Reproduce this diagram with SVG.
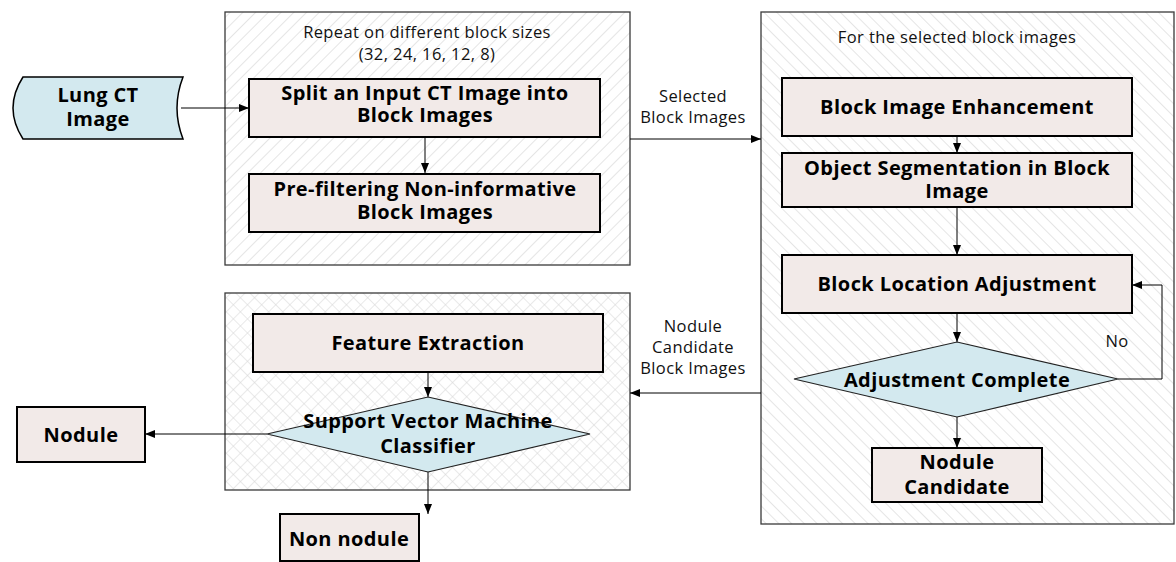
<svg xmlns="http://www.w3.org/2000/svg" width="1176" height="562" viewBox="0 0 1176 562">
  <defs>
    <pattern id="hatch-fwd" width="9" height="9" patternUnits="userSpaceOnUse" patternTransform="rotate(45)">
      <line x1="0" y1="0" x2="0" y2="9" stroke="#cfcfcf" stroke-width="1.1"/>
    </pattern>
    <pattern id="hatch-back" width="9" height="9" patternUnits="userSpaceOnUse" patternTransform="rotate(-45)">
      <line x1="0" y1="0" x2="0" y2="9" stroke="#cfcfcf" stroke-width="1.1"/>
    </pattern>
    <pattern id="lattice" width="10" height="10" patternUnits="userSpaceOnUse" patternTransform="rotate(45)">
      <line x1="0" y1="0" x2="0" y2="10" stroke="#d4d4d4" stroke-width="1"/>
      <line x1="0" y1="0" x2="10" y2="0" stroke="#d4d4d4" stroke-width="1"/>
    </pattern>
    <marker id="arrow" viewBox="0 0 10 10" refX="10" refY="5" markerWidth="10" markerHeight="10" markerUnits="userSpaceOnUse" orient="auto">
      <path d="M0,1 L10,5 L0,9 Z" fill="#000"/>
    </marker>
  </defs>
  <style>
    .container { stroke: #3a3a3a; stroke-width: 1.3; }
    .box { fill: #f2eae8; stroke: #000; stroke-width: 2; }
    .decision { fill: #d3e9ef; stroke: #222; stroke-width: 1.2; }
    .title { font-family: "Open Sans", "Noto Sans", sans-serif; font-weight: bold; font-size: 20px; letter-spacing: 0.4px; fill: #000; text-anchor: middle; }
    .note { font-family: "Open Sans", "Noto Sans", sans-serif; font-size: 16.5px; letter-spacing: 0.4px; fill: #111; text-anchor: middle; }
    .edge { fill: none; stroke: #000; stroke-width: 1; marker-end: url(#arrow); }
  </style>

  <rect width="1176" height="562" fill="#fff"/>

  <!-- group frames -->
  <g id="group-block-sizes">
    <rect class="container" x="225" y="12" width="405" height="253" fill="url(#hatch-fwd)"/>
    <text class="note" x="427" y="38">Repeat on different block sizes</text>
    <text class="note" x="427" y="60">(32, 24, 16, 12, 8)</text>
  </g>
  <g id="group-selected">
    <rect class="container" x="761" y="12" width="413" height="512" fill="url(#hatch-back)"/>
    <text class="note" x="957" y="43">For the selected block images</text>
  </g>
  <g id="group-classification">
    <rect class="container" x="225" y="293" width="405" height="197" fill="url(#lattice)"/>
  </g>

  <!-- connectors -->
  <g id="connectors">
    <line class="edge" x1="181" y1="108" x2="249" y2="108"/>
    <line class="edge" x1="425" y1="137" x2="425" y2="173"/>
    <line class="edge" x1="630" y1="139" x2="761" y2="139"/>
    <line class="edge" x1="957" y1="136" x2="957" y2="153"/>
    <line class="edge" x1="957" y1="207" x2="957" y2="255"/>
    <line class="edge" x1="957" y1="313" x2="957" y2="342"/>
    <polyline class="edge" points="1118,379 1162,379 1162,285 1132,285"/>
    <line class="edge" x1="957" y1="417" x2="957" y2="448"/>
    <line class="edge" x1="761" y1="393" x2="630" y2="393"/>
    <line class="edge" x1="428" y1="372" x2="428" y2="397"/>
    <line class="edge" x1="267" y1="434" x2="145" y2="434"/>
    <line class="edge" x1="428" y1="472" x2="428" y2="514"/>
    <text class="note" x="693" y="102">Selected</text>
    <text class="note" x="693" y="123">Block Images</text>
    <text class="note" x="693" y="332">Nodule</text>
    <text class="note" x="693" y="353">Candidate</text>
    <text class="note" x="693" y="374">Block Images</text>
    <text class="note" x="1117" y="347">No</text>
  </g>

  <!-- nodes -->
  <g id="lung-ct-image">
    <path d="M23,77 L183,77 Q171,108 183,139 L23,139 Q3,108 23,77 Z" fill="#d3e9ef" stroke="#000" stroke-width="1.5"/>
    <text class="title" x="98" y="102">Lung CT</text>
    <text class="title" x="98" y="126">Image</text>
  </g>
  <g id="split-image">
    <rect class="box" x="249" y="79" width="351" height="58"/>
    <text class="title" x="425" y="100">Split an Input CT Image into</text>
    <text class="title" x="425" y="122">Block Images</text>
  </g>
  <g id="prefiltering">
    <rect class="box" x="249" y="174" width="351" height="58"/>
    <text class="title" x="425" y="196">Pre-filtering Non-informative</text>
    <text class="title" x="425" y="219">Block Images</text>
  </g>
  <g id="block-enhancement">
    <rect class="box" x="782" y="78" width="350" height="58"/>
    <text class="title" x="957" y="114">Block Image Enhancement</text>
  </g>
  <g id="object-segmentation">
    <rect class="box" x="782" y="153" width="350" height="54"/>
    <text class="title" x="957" y="175">Object Segmentation in Block</text>
    <text class="title" x="957" y="198">Image</text>
  </g>
  <g id="location-adjustment">
    <rect class="box" x="782" y="255" width="350" height="58"/>
    <text class="title" x="957" y="291">Block Location Adjustment</text>
  </g>
  <g id="adjustment-complete">
    <polygon class="decision" points="957,342 1118,379 957,417 794,379"/>
    <text class="title" x="957" y="387">Adjustment Complete</text>
  </g>
  <g id="nodule-candidate">
    <rect class="box" x="872" y="448" width="170" height="54"/>
    <text class="title" x="957" y="469">Nodule</text>
    <text class="title" x="957" y="494">Candidate</text>
  </g>
  <g id="feature-extraction">
    <rect class="box" x="253" y="314" width="350" height="58"/>
    <text class="title" x="428" y="350">Feature Extraction</text>
  </g>
  <g id="svm-classifier">
    <polygon class="decision" points="428,397 590,434 428,472 267,434"/>
    <text class="title" x="428" y="428">Support Vector Machine</text>
    <text class="title" x="428" y="453">Classifier</text>
  </g>
  <g id="nodule">
    <rect class="box" x="17" y="407" width="128" height="55"/>
    <text class="title" x="81" y="442">Nodule</text>
  </g>
  <g id="non-nodule">
    <rect class="box" x="280" y="514" width="139" height="47"/>
    <text class="title" x="349" y="546">Non nodule</text>
  </g>
</svg>
